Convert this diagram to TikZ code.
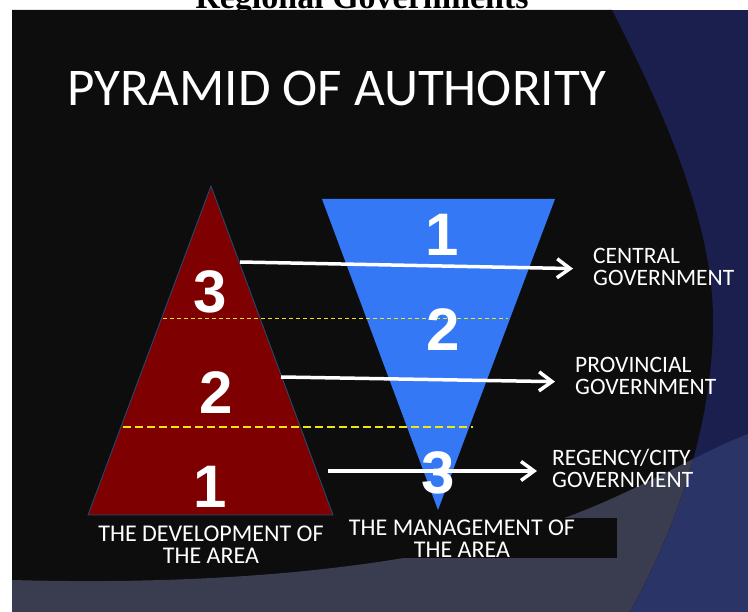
\documentclass[tikz,border=0pt]{standalone}
\usepackage{fontspec}
\setmainfont{Carlito}
\newfontfamily\numfont{Liberation Sans}
\newfontfamily\headfont{Liberation Serif}
\usetikzlibrary{arrows.meta}

\definecolor{slideblack}{RGB}{13,13,13}
\definecolor{slidenavy}{RGB}{27,31,77}
\definecolor{slideblue}{RGB}{43,52,103}
\definecolor{slidegray}{RGB}{58,60,80}
\definecolor{pyrred}{RGB}{127,0,0}
\definecolor{pyrblue}{RGB}{52,120,246}
\definecolor{pyredge}{RGB}{31,78,121}
\definecolor{divline}{RGB}{240,230,20}

\begin{document}
\begin{tikzpicture}[x=1pt, y=-1pt,
    level/.style={text=white, font=\numfont\bfseries\fontsize{60}{60}\selectfont, inner sep=0pt},
    govlabel/.style={text=white, font=\fontsize{23.5}{22}\selectfont, align=left, anchor=west, inner sep=0pt},
    arealabel/.style={text=white, font=\fontsize{24}{22}\selectfont, align=center, inner sep=0pt},
    govarrow/.style={white, line width=3.5pt, shorten >=20pt,
        -{Straight Barb[length=13pt,width=19pt,line width=3.5pt]}},
    divider/.style={divline, dashed}]
  \useasboundingbox (0,0) rectangle (748,612);
  \begin{scope}
    \clip (0,0) rectangle (748,612);
    % page heading, cut by the top of the page
    \node[font=\headfont\bfseries\fontsize{34}{34}\selectfont, anchor=base, inner sep=0pt]
      (pagehead) at (362,9) {Regional Governments};

    % slide background
    \fill[slidenavy] (12,10) rectangle (748,612);
    \fill[slideblue] (12,580) .. controls (300,588) and (480,550) .. (567,517)
      .. controls (640,490) and (700,452) .. (748,434) -- (748,612) -- (12,612) -- cycle;
    \fill[slideblack] (12,10) -- (612,10) .. controls (655,95) and (713,215) .. (713,320)
      .. controls (713,420) and (680,520) .. (630,612) -- (12,612) -- cycle;
    \begin{scope}
      \clip (12,10) -- (612,10) .. controls (655,95) and (713,215) .. (713,320)
        .. controls (713,420) and (680,520) .. (630,612) -- (12,612) -- cycle;
      \fill[slidegray] (12,580) .. controls (300,588) and (480,550) .. (567,517)
        .. controls (640,490) and (700,452) .. (748,434) -- (748,612) -- (12,612) -- cycle;
    \end{scope}
  \end{scope}

  \node[text=white, font=\fontsize{53}{53}\selectfont, anchor=base west, inner sep=0pt]
    (title) at (67,106) {PYRAMID OF AUTHORITY};

  % the two pyramids
  \fill[pyrblue] (322,199) -- (555,199) -- (438,510) -- cycle;
  \draw[pyredge, fill=pyrred, line width=0.8pt] (211,186) -- (333,515) -- (88,515) -- cycle;

  \draw[divider, line width=1pt, dash pattern=on 4pt off 3pt] (163,319) -- (508,319);
  \draw[divider, line width=2pt, dash pattern=on 8pt off 4pt] (123,427) -- (473,427);

  \node[level] (dev3) at (210,292) {3};
  \node[level] (dev2) at (216,393) {2};
  \node[level] (dev1) at (210,487) {1};
  \node[level] (man1) at (442,235) {1};
  \node[level] (man2) at (443,330) {2};
  \node[level] (man3) at (438,473) {3};

  % levels of government
  \node[govlabel] (central) at (593,267) {CENTRAL\\GOVERNMENT};
  \node[govlabel] (province) at (575,376) {PROVINCIAL\\GOVERNMENT};
  \node[govlabel] (regency) at (552,468) {REGENCY/CITY\\GOVERNMENT};

  \coordinate (from3) at (240,262);
  \coordinate (from2) at (281,377);
  \coordinate (from1) at (328,471);
  \draw[govarrow] (from3) -- ([yshift=-2pt]central.west);
  \draw[govarrow] (from2) -- ([yshift=-6pt]province.west);
  \draw[govarrow, shorten >=15pt] (from1) -- ([yshift=-3pt]regency.west);

  \node[arealabel] (development) at (211,545) {THE DEVELOPMENT OF\\THE AREA};
  \fill[slideblack] (343,518) rectangle (617,558);
  \node[arealabel] (management) at (462,539) {THE MANAGEMENT OF\\THE AREA};
\end{tikzpicture}
\end{document}
